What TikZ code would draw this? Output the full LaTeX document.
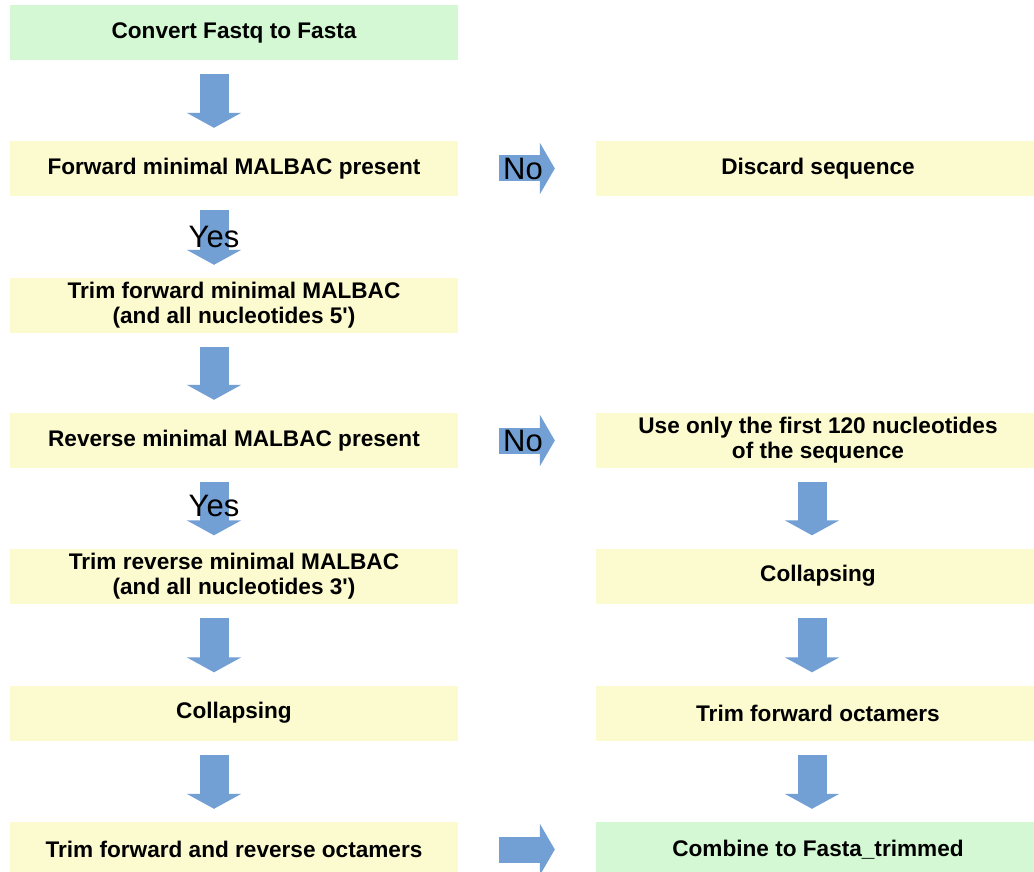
\documentclass[tikz,border=0pt]{standalone}
\usepackage{fontspec}
\setmainfont{Liberation Sans}[Ligatures=TeXOff]
\usetikzlibrary{arrows.meta}
\definecolor{stepyellow}{HTML}{FCFBCF}
\definecolor{stepgreen}{HTML}{D3F8D3}
\definecolor{flowblue}{HTML}{729FD4}
\tikzset{
  box/.style={fill=stepyellow, draw=none, align=center, inner sep=0pt,
    font=\bfseries\fontsize{22.6}{25}\selectfont},
  leftbox/.style={box, minimum width=448pt, minimum height=55pt},
  rightbox/.style={box, minimum width=444pt, minimum height=55pt},
  endbox/.style={fill=stepgreen},
  downflow/.style={draw=flowblue, line width=29pt,
    -{Triangle[width=54pt,length=15pt]}, shorten <=14pt, shorten >=13pt},
  sideflow/.style={draw=flowblue, line width=26pt,
    -{Triangle[width=51pt,length=15pt]}, shorten <=41pt, shorten >=41pt},
  answer/.style={font=\fontsize{31}{31}\selectfont, inner sep=0pt},
}
\begin{document}
\begin{tikzpicture}[x=1pt,y=-1pt]
\useasboundingbox[fill=white] (0,0) rectangle (1034,872);

% left column
\node[leftbox, endbox] (fastq)  at (234,32.5) {Convert Fastq to Fasta};
\node[leftbox] (fwdq)   at (234,168.5) {Forward minimal MALBAC present};
\node[leftbox] (fwdtrim) at (234,305.5) {Trim forward minimal MALBAC\\(and all nucleotides 5')};
\node[leftbox] (revq)   at (234,440.5) {Reverse minimal MALBAC present};
\node[leftbox] (revtrim) at (234,576) {Trim reverse minimal MALBAC\\(and all nucleotides 3')};
\node[leftbox] (collL)  at (234,713) {Collapsing};
\node[leftbox] (octL)   at (234,849.5) {Trim forward and reverse octamers};

% right column
\node[rightbox] (discard) at (818,168.5) {Discard sequence};
\node[rightbox] (first)   at (818,440.5) {Use only the first 120 nucleotides\\of the sequence};
\node[rightbox] (collR)   at (818,576) {Collapsing};
\node[rightbox] (octR)    at (818,713) {Trim forward octamers};
\node[rightbox, endbox] (combine) at (818,849.5) {Combine to Fasta\_trimmed};

% vertical flow, left column
\foreach \a/\b in {fastq/fwdq, fwdq/fwdtrim, fwdtrim/revq, revq/revtrim, revtrim/collL, collL/octL}
  \draw[downflow] ([xshift=-20pt]\a.south) -- ([xshift=-20pt]\b.north);

% vertical flow, right column
\foreach \a/\b in {first/collR, collR/octR, octR/combine}
  \draw[downflow] ([xshift=-6pt]\a.south) -- ([xshift=-6pt]\b.north);

% horizontal flow
\draw[sideflow] (fwdq.east) -- (discard.west);
\draw[sideflow] (revq.east) -- (first.west);
\draw[sideflow] (octL.east) -- (combine.west);

% decision labels
\node[answer] (yes1) at (214,237) {Yes};
\node[answer] (yes2) at (214,506) {Yes};
\node[answer] (no1)  at (523,169) {No};
\node[answer] (no2)  at (523,441) {No};
\end{tikzpicture}
\end{document}
